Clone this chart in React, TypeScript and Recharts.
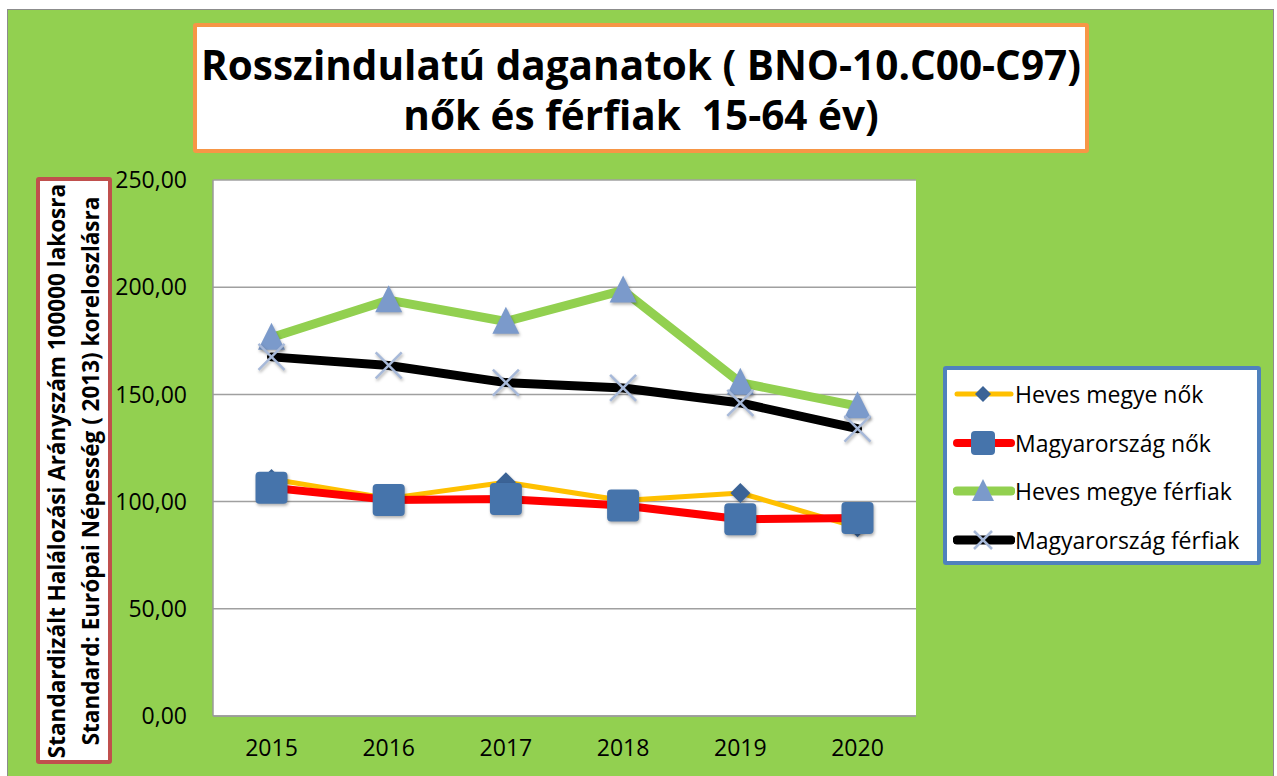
import React from 'react';
import { LineChart, Line, XAxis, YAxis, CartesianGrid, Legend } from 'recharts';

const years = ['2015', '2016', '2017', '2018', '2019', '2020'];
const hevesNok = [110.5, 101.5, 109.0, 100.5, 104.0, 88.0];
const magyarNok = [106.5, 100.8, 101.2, 98.2, 91.8, 92.3];
const hevesFerfiak = [176.5, 194.0, 184.0, 198.5, 155.5, 144.5];
const magyarFerfiak = [167.5, 163.5, 155.5, 153.0, 146.0, 134.0];
const yTicks = [0, 50, 100, 150, 200, 250];

const seriesNames = ['Heves megye nők', 'Magyarország nők', 'Heves megye férfiak', 'Magyarország férfiak'];
const seriesKeys = ['hn', 'mn', 'hf', 'mf'];

const data = years.map((y, i) => ({
  year: y,
  hn: hevesNok[i],
  mn: magyarNok[i],
  hf: hevesFerfiak[i],
  mf: magyarFerfiak[i],
}));

const FONT = '"Open Sans", "Noto Sans", sans-serif';
const SHADOW = { filter: 'drop-shadow(1.5px 2.5px 1.5px rgba(0,0,0,0.3))' };

const diamondPath = (cx: number, cy: number, s: number) =>
  `M${cx},${cy - s}L${cx + s},${cy}L${cx},${cy + s}L${cx - s},${cy}Z`;
const trianglePath = (cx: number, cy: number, w: number) =>
  `M${cx},${cy - w * 0.55}L${cx + w / 2},${cy + w * 0.45}L${cx - w / 2},${cy + w * 0.45}Z`;

const makeMarker = (kind: string, size: number, shadow = true) => (props: any) => {
  const { cx, cy, index } = props;
  const style = shadow ? SHADOW : undefined;
  if (cx == null || cy == null) return <g key={`n${index}`} />;
  if (kind === 'diamond')
    return <path key={`d${index}`} style={style} d={diamondPath(cx, cy, size / 2)} fill="#3B6396" />;
  if (kind === 'square')
    return (
      <rect key={`s${index}`} style={style} x={cx - size / 2} y={cy - size / 2} width={size} height={size} rx={4} fill="#4674AB" />
    );
  if (kind === 'triangle')
    return <path key={`t${index}`} style={style} d={trianglePath(cx, cy, size)} fill="#7B9ACB" />;
  const h = size / 2;
  return (
    <g key={`x${index}`} style={style} stroke="#A7B9D9" strokeWidth={2.5}>
      <line x1={cx - h} y1={cy - h} x2={cx + h} y2={cy + h} />
      <line x1={cx - h} y1={cy + h} x2={cx + h} y2={cy - h} />
    </g>
  );
};

const seriesStyle = [
  { color: '#FFC000', width: 5, marker: 'diamond', size: 20, lsize: 16 },
  { color: '#FF0000', width: 8, marker: 'square', size: 32, lsize: 24 },
  { color: '#92D050', width: 9, marker: 'triangle', size: 27, lsize: 22 },
  { color: '#000000', width: 9, marker: 'x', size: 26, lsize: 18 },
];

const LegendIcon = ({ i }: { i: number }) => {
  const st = seriesStyle[i];
  const cx = 30;
  const cy = 14;
  const m = makeMarker(st.marker, st.lsize, false)({ cx, cy, index: 0 });
  return (
    <svg width={62} height={28} style={{ display: 'block' }}>
      <line x1={4} y1={cy} x2={58} y2={cy} stroke={st.color} strokeWidth={st.width} strokeLinecap="round" />
      {m}
    </svg>
  );
};

const renderLegend = () => (
  <div
    style={{
      width: 318,
      height: 199,
      boxSizing: 'border-box',
      border: '4px solid #4F81BD',
      borderRadius: 3,
      background: '#fff',
      paddingTop: 0,
      paddingLeft: 6,
    }}
  >
    {seriesNames.map((n, i) => (
      <div key={n} style={{ display: 'flex', alignItems: 'center', height: 48.5 }}>
        <LegendIcon i={i} />
        <span style={{ fontFamily: FONT, fontSize: 23, color: '#000', marginLeft: 0, whiteSpace: 'nowrap' }}>{n}</span>
      </div>
    ))}
  </div>
);

const fmt = (v: number) => v.toFixed(2).replace('.', ',');

export default function App() {
  return (
    <div style={{ position: 'absolute', left: 0, top: 0, width: 1277, height: 776, overflow: 'hidden', background: '#fff' }}>
      <div
        style={{
          position: 'absolute',
          left: 7,
          top: 9,
          width: 1267,
          height: 800,
          boxSizing: 'border-box',
          border: '1.5px solid #8C8C8C',
          background: '#92D050',
        }}
      />
      <div
        style={{
          position: 'absolute',
          left: 193,
          top: 23,
          width: 896,
          height: 130,
          boxSizing: 'border-box',
          border: '4px solid #F79646',
          borderRadius: 3,
          background: '#fff',
          display: 'flex',
          flexDirection: 'column',
          alignItems: 'center',
          justifyContent: 'center',
          fontFamily: FONT,
          fontWeight: 700,
          fontSize: 40.5,
          lineHeight: '50px',
          paddingTop: 3,
          color: '#000',
          whiteSpace: 'pre',
        }}
      >
        <div>Rosszindulatú daganatok ( BNO-10.C00-C97)</div>
        <div>nők és férfiak  15-64 év)</div>
      </div>
      <div
        style={{
          position: 'absolute',
          left: 36,
          top: 177,
          width: 76,
          height: 587,
          boxSizing: 'border-box',
          border: '4px solid #C0504D',
          borderRadius: 3,
          background: '#fff',
        }}
      >
        <div
          style={{
            position: 'absolute',
            left: 34 - 290,
            top: 290 - 34,
            width: 580,
            height: 68,
            transform: 'rotate(-90deg)',
            display: 'flex',
            flexDirection: 'column',
            alignItems: 'center',
            justifyContent: 'center',
            fontFamily: FONT,
            fontWeight: 700,
            fontSize: 22.5,
            lineHeight: '34px',
            color: '#000',
            whiteSpace: 'nowrap',
          }}
        >
          <div>Standardizált Halálozási Arányszám 100000 lakosra</div>
          <div>Standard: Európai Népesség ( 2013) koreloszlásra</div>
        </div>
      </div>
      <div style={{ position: 'absolute', left: 0, top: 0 }}>
        <LineChart width={1277} height={776} data={data} margin={{ top: 180, right: 361, bottom: 20, left: 113 }}>
          <CartesianGrid vertical={false} stroke="#A0A0A0" strokeWidth={1.5} fill="#FFFFFF" fillOpacity={1} />
          <XAxis
            dataKey="year"
            height={40}
            padding={{ left: 58.5, right: 58.5 }}
            tickLine={false}
            tickSize={0}
            tickMargin={24}
            axisLine={{ stroke: '#9A9A9A', strokeWidth: 1.5 }}
            tick={{ fontFamily: FONT, fontSize: 23, fill: '#000' }}
          />
          <YAxis
            width={100}
            domain={[0, 250]}
            ticks={yTicks}
            tickFormatter={fmt}
            tickLine={false}
            tickSize={0}
            tickMargin={26}
            axisLine={{ stroke: '#9A9A9A', strokeWidth: 1.5 }}
            tick={{ fontFamily: FONT, fontSize: 23, fill: '#000' }}
            interval={0}
          />
          {seriesKeys.map((k, i) => (
            <Line
              key={k}
              dataKey={k}
              name={seriesNames[i]}
              stroke={seriesStyle[i].color}
              strokeWidth={seriesStyle[i].width}
              strokeLinejoin="round"
              strokeLinecap="round"
              dot={makeMarker(seriesStyle[i].marker, seriesStyle[i].size)}
              activeDot={false}
              isAnimationActive={false}
            />
          ))}
          <Legend
            layout="vertical"
            align="center"
            verticalAlign="middle"
            content={renderLegend}
            wrapperStyle={{ position: 'absolute', left: 943, top: 366, width: 318, height: 199 }}
          />
        </LineChart>
      </div>
    </div>
  );
}
